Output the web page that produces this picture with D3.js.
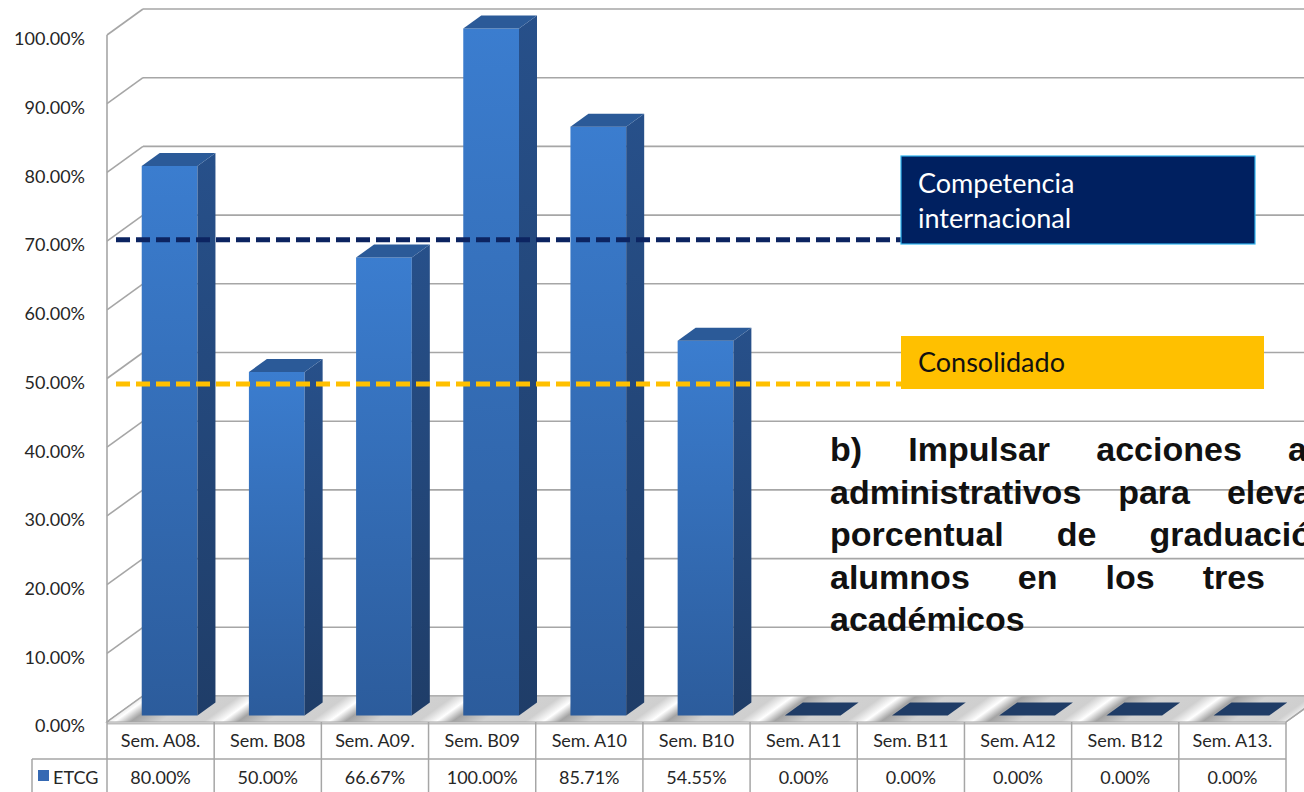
<!DOCTYPE html>
<html>
<head>
<meta charset="utf-8">
<script src="https://cdn.jsdelivr.net/npm/d3@7"></script>
<style>
  html, body { margin: 0; padding: 0; background: #ffffff; }
  svg { display: block; }
</style>
</head>
<body>
<div id="chart"></div>
<script>
// chart data
var categories = ["Sem. A08.", "Sem. B08", "Sem. A09.", "Sem. B09", "Sem. A10", "Sem. B10",
                  "Sem. A11", "Sem. B11", "Sem. A12", "Sem. B12", "Sem. A13."];
var etcgValues = [0.80, 0.50, 0.6667, 1.00, 0.8571, 0.5455, 0, 0, 0, 0, 0];
var yTicks = [0, 0.1, 0.2, 0.3, 0.4, 0.5, 0.6, 0.7, 0.8, 0.9, 1.0];
var seriesName = "ETCG";

// reference levels drawn as dashed lines
var competenciaLevel = 0.702;
var consolidadoLevel = 0.492;

// note text, one array of words per line (the text box is cut by the right edge)
var noteLines = [["b)", "Impulsar", "acciones", "a"],
                 ["administrativos", "para", "eleva"],
                 ["porcentual", "de", "graduació"],
                 ["alumnos", "en", "los", "tres"],
                 ["académicos"]];

var screen = {width: 1304, height: 792};
var plot = {left: 107, right: 1286, bottom: 722, top: 35};
var depth = {dx: 36, dy: -26};

var svg = d3.select("#chart")
    .append("svg")
    .attr("width", screen.width)
    .attr("height", screen.height);

var defs = svg.append("defs");

var xScale = d3.scaleBand()
    .domain(categories)
    .range([plot.left, plot.right]);

var yScale = d3.scaleLinear()
    .domain([0, 1])
    .range([plot.bottom, plot.top]);

var pct = d3.format(".2%");
var bw = xScale.bandwidth();

// gradients
var front = defs.append("linearGradient").attr("id", "barFront")
    .attr("x1", 0).attr("y1", 0).attr("x2", 0).attr("y2", 1);
front.append("stop").attr("offset", "0%").attr("stop-color", "#3b7dcf");
front.append("stop").attr("offset", "100%").attr("stop-color", "#2c5c9c");

var side = defs.append("linearGradient").attr("id", "barSide")
    .attr("x1", 0).attr("y1", 0).attr("x2", 0).attr("y2", 1);
side.append("stop").attr("offset", "0%").attr("stop-color", "#27508a");
side.append("stop").attr("offset", "100%").attr("stop-color", "#1f3d68");

// floor stripes follow the depth direction
var k = -depth.dx / depth.dy;
var floorGrad = defs.append("linearGradient").attr("id", "floorGrad")
    .attr("gradientUnits", "userSpaceOnUse")
    .attr("spreadMethod", "repeat")
    .attr("x1", 0).attr("y1", 0).attr("x2", bw).attr("y2", 0)
    .attr("gradientTransform", "matrix(1,0," + (-k) + ",1," + (plot.left + k * (plot.bottom - 8)) + ",0)");
[[0, "#cfcfcf"], [0.17, "#ffffff"], [0.32, "#a4a4a4"], [0.6, "#d2d2d2"], [1, "#cfcfcf"]]
    .forEach(function(s) {
        floorGrad.append("stop").attr("offset", s[0]).attr("stop-color", s[1]);
    });

// back wall gridlines
var walls = svg.append("g");
yTicks.forEach(function(t) {
    var y = yScale(t);
    walls.append("line")
        .attr("x1", plot.left + depth.dx).attr("y1", y + depth.dy)
        .attr("x2", screen.width + 5).attr("y2", y + depth.dy)
        .attr("stroke", "#a6a6a6").attr("stroke-width", 1.6);
    walls.append("line")
        .attr("x1", plot.left).attr("y1", y)
        .attr("x2", plot.left + depth.dx).attr("y2", y + depth.dy)
        .attr("stroke", "#a6a6a6").attr("stroke-width", 1.6);
});
walls.append("line")
    .attr("x1", plot.left).attr("y1", yScale(1))
    .attr("x2", plot.left).attr("y2", yScale(0))
    .attr("stroke", "#a6a6a6").attr("stroke-width", 1.6);

// floor
var y0 = yScale(0);
svg.append("polygon")
    .attr("points", [[plot.left, y0], [plot.right, y0],
                     [plot.right + depth.dx, y0 + depth.dy], [plot.left + depth.dx, y0 + depth.dy]].join(" "))
    .attr("fill", "url(#floorGrad)")
    .attr("stroke", "#a6a6a6").attr("stroke-width", 1.2);
svg.append("line")
    .attr("x1", plot.left).attr("y1", y0 + 1.5).attr("x2", plot.right).attr("y2", y0 + 1.5)
    .attr("stroke", "#bdbdbd").attr("stroke-width", 2);

// bars, placed between 25% and 75% of the depth
var d0 = 0.25, d1 = 0.75;
var barW = bw * 0.52;
var bars = svg.append("g");
categories.forEach(function(c, i) {
    var v = etcgValues[i];
    var x0 = xScale(c) + (bw - barW) / 2 + depth.dx * d0;
    var x1 = x0 + barW;
    var ox = depth.dx * (d1 - d0), oy = depth.dy * (d1 - d0);
    var yb = yScale(0) + depth.dy * d0;
    var yt = yScale(v) + depth.dy * d0;
    if (v > 0) {
        bars.append("rect")
            .attr("x", x0).attr("y", yt).attr("width", barW).attr("height", yb - yt)
            .attr("fill", "url(#barFront)");
        bars.append("polygon")
            .attr("points", [[x1, yt], [x1 + ox, yt + oy], [x1 + ox, yb + oy], [x1, yb]].join(" "))
            .attr("fill", "url(#barSide)");
    }
    bars.append("polygon")
        .attr("points", [[x0, yt], [x1, yt], [x1 + ox, yt + oy], [x0 + ox, yt + oy]].join(" "))
        .attr("fill", v > 0 ? "#2b5a98" : "#1f3c66");
});

// y axis labels
svg.append("g").selectAll("text")
    .data(yTicks)
    .enter()
    .append("text")
    .attr("x", 85)
    .attr("y", function(t) { return yScale(t) + 4; })
    .attr("dy", "0.35em")
    .attr("text-anchor", "end")
    .attr("font-family", "Lato, 'Open Sans', sans-serif")
    .attr("font-size", 18)
    .attr("fill", "#262626")
    .text(function(t) { return pct(t); });

// data table
var tableTop = y0, rowH = 37;
var table = svg.append("g").attr("font-family", "Lato, 'Open Sans', sans-serif")
    .attr("font-size", 18).attr("fill", "#262626");
var gridCol = "#a6a6a6";
table.append("line").attr("x1", 32).attr("y1", tableTop + rowH).attr("x2", plot.right).attr("y2", tableTop + rowH)
    .attr("stroke", gridCol).attr("stroke-width", 1.5);
table.append("line").attr("x1", 32).attr("y1", tableTop + rowH).attr("x2", 32).attr("y2", screen.height)
    .attr("stroke", gridCol).attr("stroke-width", 1.5);
xScale.domain().concat([null]).forEach(function(c) {
    var x = c === null ? plot.right : xScale(c);
    table.append("line").attr("x1", x).attr("y1", tableTop).attr("x2", x).attr("y2", screen.height)
        .attr("stroke", gridCol).attr("stroke-width", 1.5);
});
svg.append("line")
    .attr("x1", plot.right).attr("y1", y0).attr("x2", plot.right + depth.dx).attr("y2", y0 + depth.dy)
    .attr("stroke", gridCol).attr("stroke-width", 1.5);

table.selectAll(".head")
    .data(categories)
    .enter()
    .append("text")
    .attr("x", function(c) { return xScale(c) + bw / 2; })
    .attr("y", tableTop + 25)
    .attr("text-anchor", "middle")
    .text(function(c) { return c; });

table.selectAll(".val")
    .data(etcgValues)
    .enter()
    .append("text")
    .attr("x", function(v, i) { return xScale(categories[i]) + bw / 2; })
    .attr("y", tableTop + rowH + 25)
    .attr("text-anchor", "middle")
    .text(function(v) { return pct(v); });

table.append("rect").attr("x", 38).attr("y", tableTop + rowH + 11).attr("width", 11).attr("height", 11)
    .attr("fill", "#3569b3");
table.append("text").attr("x", 53).attr("y", tableTop + rowH + 25).text(seriesName);

// dashed reference lines
svg.append("line")
    .attr("x1", 116).attr("x2", 902)
    .attr("y1", yScale(competenciaLevel)).attr("y2", yScale(competenciaLevel))
    .attr("stroke", "#0c2461").attr("stroke-width", 5).attr("stroke-dasharray", "14,6");
svg.append("line")
    .attr("x1", 116).attr("x2", 902)
    .attr("y1", yScale(consolidadoLevel)).attr("y2", yScale(consolidadoLevel))
    .attr("stroke", "#ffc000").attr("stroke-width", 5).attr("stroke-dasharray", "14,6");

// labels for the levels
var boxFont = "Lato, 'Open Sans', sans-serif";
svg.append("rect").attr("x", 901).attr("y", 156).attr("width", 354).attr("height", 88)
    .attr("fill", "#002060").attr("stroke", "#2fb5ee").attr("stroke-width", 1.2);
svg.append("text").attr("x", 918).attr("y", 193).attr("font-family", boxFont).attr("font-size", 27)
    .attr("fill", "#ffffff").text("Competencia");
svg.append("text").attr("x", 918).attr("y", 228).attr("font-family", boxFont).attr("font-size", 27)
    .attr("fill", "#ffffff").text("internacional");
svg.append("rect").attr("x", 901).attr("y", 336).attr("width", 363).attr("height", 53)
    .attr("fill", "#ffc000");
svg.append("text").attr("x", 918).attr("y", 372).attr("font-family", boxFont).attr("font-size", 27)
    .attr("fill", "#111111").text("Consolidado");

// justified note on the right: words spread between left edge and the visible line end
var noteLeft = 830;
var noteLineEnds = [1307, 1312, 1312, 1265, null];
var note = svg.append("g")
    .attr("font-family", "'Liberation Sans', Arial, sans-serif")
    .attr("font-weight", "bold")
    .attr("font-size", 34)
    .attr("fill", "#111111");
noteLines.forEach(function(words, li) {
    var y = 461 + li * 42.5;
    var nodes = words.map(function(w) {
        return note.append("text").attr("y", y).text(w);
    });
    var widths = nodes.map(function(n) { return n.node().getComputedTextLength(); });
    var gap = noteLineEnds[li] === null || words.length < 2 ? 0 :
        (noteLineEnds[li] - noteLeft - d3.sum(widths)) / (words.length - 1);
    var x = noteLeft;
    nodes.forEach(function(n, wi) {
        n.attr("x", x);
        x += widths[wi] + gap;
    });
});
</script>
</body>
</html>
